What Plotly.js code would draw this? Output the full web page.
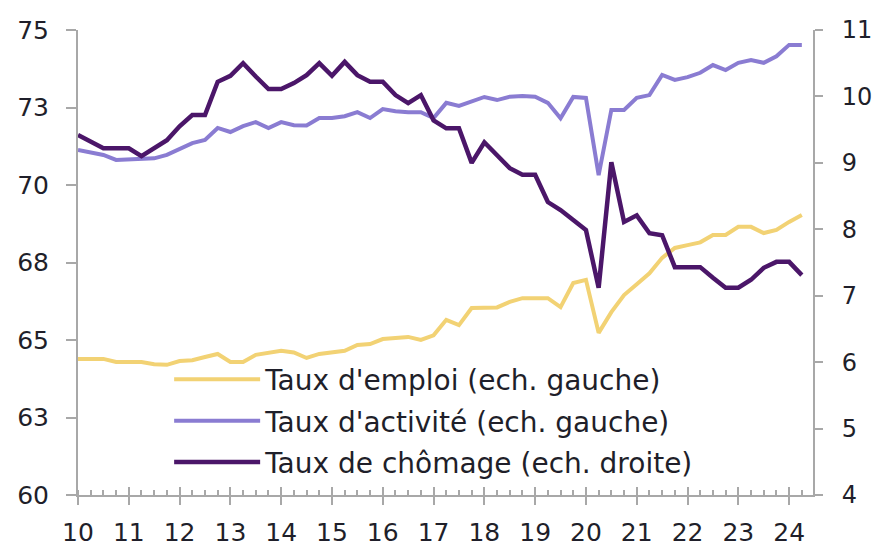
<!DOCTYPE html>
<html>
<head>
<meta charset="utf-8">
<script src="https://cdn.plot.ly/plotly-3.0.1.min.js"></script>
<style>
  html, body { margin: 0; padding: 0; background: #fff; }
  #chart { width: 872px; height: 546px; }
</style>
</head>
<body>
<div id="chart"></div>
<script>
// Quarterly data, 2010 Q1 -> 2024 Q2
const startYear = 2010;
const quarters = 58;

const tauxEmploi = [
  64.39, 64.39, 64.39, 64.29, 64.29, 64.29, 64.22, 64.20, 64.32, 64.35,
  64.45, 64.55, 64.29, 64.29, 64.52, 64.58, 64.65, 64.60, 64.42, 64.55,
  64.61, 64.65, 64.84, 64.87, 65.03, 65.07, 65.10, 65.00, 65.15, 65.65,
  65.48, 66.03, 66.03, 66.05, 66.23, 66.35, 66.35, 66.35, 66.06, 66.84,
  66.94, 65.23, 65.90, 66.45, 66.80, 67.15, 67.65, 67.97, 68.06, 68.15,
  68.39, 68.39, 68.65, 68.65, 68.45, 68.55, 68.81, 69.03
];

const tauxActivite = [
  71.13, 71.05, 70.97, 70.81, 70.82, 70.83, 70.86, 70.97, 71.15, 71.35,
  71.45, 71.84, 71.71, 71.90, 72.03, 71.84, 72.03, 71.93, 71.92, 72.16,
  72.16, 72.22, 72.35, 72.16, 72.45, 72.38, 72.35, 72.35, 72.16, 72.65,
  72.55, 72.70, 72.84, 72.74, 72.85, 72.87, 72.85, 72.65, 72.15, 72.84,
  72.81, 70.32, 72.42, 72.42, 72.81, 72.90, 73.55, 73.39, 73.48, 73.62,
  73.87, 73.71, 73.94, 74.03, 73.94, 74.15, 74.52, 74.52
];

const tauxChomage = [
  9.42, 9.32, 9.22, 9.22, 9.22, 9.10, 9.22, 9.34, 9.55, 9.72,
  9.72, 10.22, 10.31, 10.50, 10.30, 10.11, 10.11, 10.20, 10.32, 10.50,
  10.31, 10.52, 10.32, 10.22, 10.22, 10.02, 9.90, 10.02, 9.64, 9.52,
  9.52, 9.00, 9.31, 9.12, 8.92, 8.82, 8.82, 8.41, 8.29, 8.14,
  7.99, 7.12, 9.01, 8.11, 8.21, 7.94, 7.91, 7.43, 7.43, 7.43,
  7.27, 7.12, 7.12, 7.24, 7.42, 7.51, 7.51, 7.31
];

const seriesNames = [
  "Taux d'emploi (ech. gauche)",
  "Taux d'activité (ech. gauche)",
  "Taux de chômage (ech. droite)"
];

const yearTicks = [2010, 2011, 2012, 2013, 2014, 2015, 2016, 2017, 2018, 2019, 2020, 2021, 2022, 2023, 2024];
const yearLabels = ["10", "11", "12", "13", "14", "15", "16", "17", "18", "19", "20", "21", "22", "23", "24"];
const leftTicks = [60, 62.5, 65, 67.5, 70, 72.5, 75];
const leftLabels = ["60", "63", "65", "68", "70", "73", "75"];
const rightTicks = [4, 5, 6, 7, 8, 9, 10, 11];

const xDates = [];
for (let i = 0; i < quarters; i++) xDates.push(startYear + i * 0.25);

const colYellow = '#f2d274';
const colLight = '#8a7cd2';
const colDark = '#4b1669';
const axisCol = '#a8a8a8';
const textCol = '#1f1f2a';
const fontFam = '"DejaVu Sans", "Open Sans", sans-serif';

const traces = [
  { x: xDates, y: tauxEmploi, name: seriesNames[0], type: 'scatter', mode: 'lines',
    line: { color: colYellow, width: 4 }, yaxis: 'y', legendgroup: 'a' },
  { x: xDates, y: tauxActivite, name: seriesNames[1], type: 'scatter', mode: 'lines',
    line: { color: colLight, width: 4 }, yaxis: 'y', legendgroup: 'b' },
  { x: xDates, y: tauxChomage, name: seriesNames[2], type: 'scatter', mode: 'lines',
    line: { color: colDark, width: 4.5 }, yaxis: 'y2', legendgroup: 'c' }
];

const layout = {
  width: 872, height: 546,
  margin: { l: 78, r: 59, t: 30, b: 51 },
  paper_bgcolor: '#fff', plot_bgcolor: '#fff',
  font: { family: fontFam, size: 25, color: textCol },
  showlegend: true,
  legend: {
    x: 0.124, y: 0.302, xanchor: 'left', yanchor: 'top',
    bgcolor: 'rgba(0,0,0,0)', borderwidth: 0,
    font: { family: fontFam, size: 28, color: textCol },
    itemwidth: 86, tracegroupgap: 2
  },
  xaxis: {
    range: [2010, 2024.47], showgrid: false, zeroline: false,
    tickmode: 'array', tickvals: yearTicks, ticktext: yearLabels,
    ticks: 'outside', ticklen: 8, tickwidth: 2, tickcolor: axisCol,
    showline: true, linecolor: axisCol, linewidth: 2,
    ticklabelstandoff: 6,
    minor: { dtick: 0.25, tick0: 2010, ticks: 'inside', ticklen: 5, tickwidth: 2, tickcolor: axisCol, showgrid: false }
  },
  xaxis2: {
    overlaying: 'x', anchor: 'y', side: 'bottom', matches: 'x',
    range: [2010, 2024.47], showgrid: false, zeroline: false,
    tickmode: 'array', tickvals: yearTicks, showticklabels: false,
    ticks: 'inside', ticklen: 8, tickwidth: 2, tickcolor: axisCol, showline: false
  },
  yaxis: {
    range: [60, 75], showgrid: false, zeroline: false,
    tickmode: 'array', tickvals: leftTicks, ticktext: leftLabels,
    ticks: 'outside', ticklen: 10, tickwidth: 2, tickcolor: axisCol,
    showline: true, linecolor: axisCol, linewidth: 2,
    ticklabelstandoff: 12
  },
  yaxis2: {
    overlaying: 'y', side: 'right', anchor: 'x',
    range: [4, 11], showgrid: false, zeroline: false,
    tickmode: 'array', tickvals: rightTicks,
    tickfont: { family: fontFam, size: 24, color: textCol },
    ticks: 'outside', ticklen: 8, tickwidth: 2, tickcolor: axisCol,
    showline: true, linecolor: axisCol, linewidth: 2,
    ticklabelstandoff: 14
  }
};

// invisible helper so the overlay x axis (upper half of the year ticks) is drawn
traces.push({ x: [2010], y: [60], xaxis: 'x2', yaxis: 'y', mode: 'markers',
  marker: { opacity: 0 }, showlegend: false, hoverinfo: 'skip' });

Plotly.newPlot('chart', traces, layout, { staticPlot: true, displayModeBar: false });
</script>
</body>
</html>
